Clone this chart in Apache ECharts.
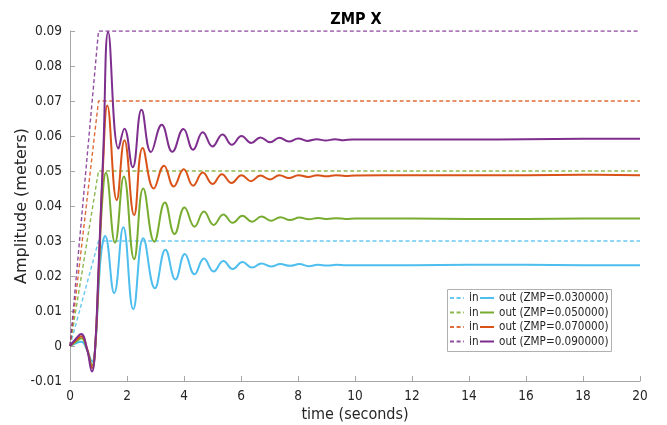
<!DOCTYPE html>
<html>
<head>
<meta charset="utf-8">
<script src="https://cdn.jsdelivr.net/npm/echarts@6/dist/echarts.min.js"></script>
<style>
  html, body { margin: 0; padding: 0; background: #fff; }
  #chart { width: 667px; height: 425px; }
</style>
</head>
<body>
<div id="chart"></div>
<script>
// Reference ZMP levels (step inputs, reached by a 1 s ramp)
const zmpLevels = [0.03, 0.05, 0.07, 0.09];
const rampTimes = [0, 1.0, 20];

// Tick labels
const xTicks = [0, 2, 4, 6, 8, 10, 12, 14, 16, 18, 20];
const yTicks = [-0.01, 0, 0.01, 0.02, 0.03, 0.04, 0.05, 0.06, 0.07, 0.08, 0.09];

// Measured ZMP response for ZMP = 0.03
const tOut1 = [0, 0.2, 0.4, 0.6, 0.78, 0.88, 1.0, 1.1, 1.23, 1.55, 1.87, 2.22, 2.57, 2.98, 3.35, 3.7, 4.03, 4.37, 4.7, 5.04, 5.38, 5.71, 6.05, 6.39, 6.72, 7.05, 7.38, 7.72, 8.05, 8.38, 8.7, 9.03, 9.35, 9.68, 10, 12, 14, 16, 18, 20];
const vOut1 = [0, 0.0008, 0.0012, -0.0012, -0.0044, -0.0008, 0.016, 0.027, 0.0314, 0.0151, 0.0339, 0.0105, 0.0308, 0.0165, 0.0275, 0.019, 0.0263, 0.0205, 0.025, 0.0213, 0.0243, 0.022, 0.024, 0.0224, 0.0236, 0.0227, 0.0234, 0.0229, 0.0234, 0.0228, 0.0232, 0.023, 0.0232, 0.0231, 0.0231, 0.0231, 0.0232, 0.0232, 0.0231, 0.0231];

// Measured ZMP response for ZMP = 0.05
const tOut2 = [0, 0.2, 0.4, 0.6, 0.78, 0.88, 1.0, 1.12, 1.26, 1.58, 1.89, 2.25, 2.57, 2.96, 3.33, 3.67, 4.02, 4.37, 4.7, 5.04, 5.38, 5.71, 6.05, 6.39, 6.72, 7.05, 7.38, 7.72, 8.05, 8.38, 8.7, 9.03, 9.35, 9.68, 10, 12, 14, 16, 18, 20];
const vOut2 = [0, 0.0012, 0.0022, -0.001, -0.0055, -0.001, 0.019, 0.04, 0.0495, 0.0295, 0.0484, 0.0248, 0.045, 0.0298, 0.041, 0.032, 0.0396, 0.0341, 0.0384, 0.0346, 0.0376, 0.0352, 0.0372, 0.0355, 0.037, 0.0358, 0.0368, 0.036, 0.0367, 0.0362, 0.0366, 0.0363, 0.0365, 0.0363, 0.0364, 0.0364, 0.0363, 0.0363, 0.0364, 0.0364];

// Measured ZMP response for ZMP = 0.07
const tOut3 = [0, 0.2, 0.4, 0.6, 0.78, 0.88, 1.0, 1.15, 1.31, 1.64, 1.91, 2.25, 2.55, 2.94, 3.3, 3.64, 3.99, 4.32, 4.66, 5.0, 5.33, 5.67, 6.02, 6.35, 6.68, 7.02, 7.35, 7.68, 8.02, 8.35, 8.68, 9.0, 9.33, 9.66, 10, 12, 14, 16, 18, 20];
const vOut3 = [0, 0.0016, 0.0028, -0.0008, -0.0063, -0.001, 0.02, 0.05, 0.0687, 0.0417, 0.0588, 0.0374, 0.0566, 0.045, 0.0515, 0.0456, 0.0505, 0.0458, 0.0496, 0.0463, 0.0491, 0.0466, 0.0488, 0.0471, 0.0487, 0.0476, 0.0488, 0.048, 0.0488, 0.0483, 0.0488, 0.0485, 0.0488, 0.0486, 0.0487, 0.0488, 0.0488, 0.0488, 0.0489, 0.0488];

// Measured ZMP response for ZMP = 0.09
const tOut4 = [0, 0.2, 0.39, 0.6, 0.77, 0.88, 1.0, 1.17, 1.34, 1.7, 1.91, 2.2, 2.51, 2.84, 3.22, 3.59, 3.98, 4.32, 4.66, 5.0, 5.35, 5.68, 6.02, 6.36, 6.68, 7.02, 7.35, 7.68, 8.01, 8.33, 8.66, 8.97, 9.3, 9.6, 9.9, 12, 14, 16, 18, 20];
const vOut4 = [0, 0.002, 0.0034, -0.001, -0.0073, -0.001, 0.022, 0.056, 0.0897, 0.0564, 0.0621, 0.0511, 0.0675, 0.0554, 0.0632, 0.0555, 0.062, 0.0561, 0.0611, 0.057, 0.0604, 0.0575, 0.06, 0.058, 0.0596, 0.0582, 0.0595, 0.0584, 0.0593, 0.0586, 0.0591, 0.0587, 0.0591, 0.0588, 0.059, 0.059, 0.059, 0.0591, 0.0592, 0.0592];

const colors = ['#4DBEEE', '#77AC30', '#D95319', '#7E2F8E'];
const outTimes = [tOut1, tOut2, tOut3, tOut4];
const outValues = [vOut1, vOut2, vOut3, vOut4];
const outNames = zmpLevels.map(z => 'out (ZMP=' + z.toFixed(6) + ')');
const inNames = zmpLevels.map((z, i) => 'in#' + i);

const FONT_NARROW = "'DejaVu Sans Condensed', 'DejaVu Sans', sans-serif";
const FONT = "'DejaVu Sans', sans-serif";
const AXIS_GREY = '#a6a6a6';
const TEXT_DARK = '#262626';

const zip = (ts, vs) => ts.map((t, i) => [t, vs[i]]);

const series = [];
zmpLevels.forEach((z, i) => {
  series.push({
    name: inNames[i],
    type: 'line',
    data: zip(rampTimes, [0, z, z]),
    symbol: 'none',
    silent: true,
    z: 2 + i * 2,
    lineStyle: { color: colors[i], width: 1.4, type: [4, 2.6], opacity: 0.85 },
    itemStyle: { color: colors[i] }
  });
  series.push({
    name: outNames[i],
    type: 'line',
    data: zip(outTimes[i], outValues[i]),
    symbol: 'none',
    smooth: 0.45,
    silent: true,
    z: 3 + i * 2,
    lineStyle: { color: colors[i], width: 2 },
    itemStyle: { color: colors[i] }
  });
});

const legendCommon = {
  orient: 'vertical',
  top: 291,
  padding: 0,
  itemWidth: 14,
  itemHeight: 8,
  itemGap: 0.5,
  selectedMode: false,
  itemStyle: { opacity: 0 },
  textStyle: { fontFamily: FONT_NARROW, fontSize: 11.6, color: TEXT_DARK, lineHeight: 14 },
  z: 6
};

const chart = echarts.init(document.getElementById('chart'), null, { renderer: 'canvas' });
chart.setOption({
  animation: false,
  backgroundColor: '#ffffff',
  textStyle: { fontFamily: FONT_NARROW },
  title: {
    text: 'ZMP X',
    left: 351,
    textAlign: 'center',
    top: 7,
    textStyle: { fontFamily: FONT_NARROW, fontSize: 16, fontWeight: 'bold', color: '#000' }
  },
  grid: { left: 70, right: 27, top: 31, bottom: 44, containLabel: false, outerBoundsMode: 'none' },
  xAxis: {
    type: 'value',
    min: xTicks[0],
    max: xTicks[xTicks.length - 1],
    interval: xTicks[1] - xTicks[0],
    name: 'time (seconds)',
    nameLocation: 'middle',
    nameGap: 26,
    nameMoveOverlap: false,
    nameTextStyle: { fontFamily: FONT_NARROW, fontSize: 16, color: TEXT_DARK },
    axisLine: { onZero: false, lineStyle: { color: AXIS_GREY, width: 1 } },
    axisTick: { inside: true, length: 5, lineStyle: { color: AXIS_GREY } },
    axisLabel: { color: TEXT_DARK, fontSize: 13.5, margin: 8, fontFamily: FONT_NARROW },
    splitLine: { show: false }
  },
  yAxis: {
    type: 'value',
    min: yTicks[0],
    max: yTicks[yTicks.length - 1],
    interval: 0.01,
    name: 'Amplitude (meters)',
    nameLocation: 'middle',
    nameGap: 40,
    nameMoveOverlap: false,
    nameTextStyle: { fontFamily: FONT, fontSize: 16, color: TEXT_DARK },
    axisLine: { onZero: false, lineStyle: { color: AXIS_GREY, width: 1 } },
    axisTick: { inside: true, length: 5, lineStyle: { color: AXIS_GREY } },
    axisLabel: {
      color: TEXT_DARK, fontSize: 13.5, margin: 8, fontFamily: FONT_NARROW,
      formatter: v => (Math.abs(v) < 1e-9 ? '0' : v.toFixed(2))
    },
    splitLine: { show: false }
  },
  legend: [
    Object.assign({}, legendCommon, {
      left: 449,
      data: inNames,
      formatter: () => 'in'
    }),
    Object.assign({}, legendCommon, {
      left: 479,
      data: outNames
    })
  ],
  graphic: [{
    type: 'rect',
    left: 447,
    top: 289,
    shape: { width: 164, height: 62 },
    style: { fill: '#ffffff', stroke: '#b0b0b0', lineWidth: 1 },
    z: 5
  }],
  series: series
});
</script>
</body>
</html>
